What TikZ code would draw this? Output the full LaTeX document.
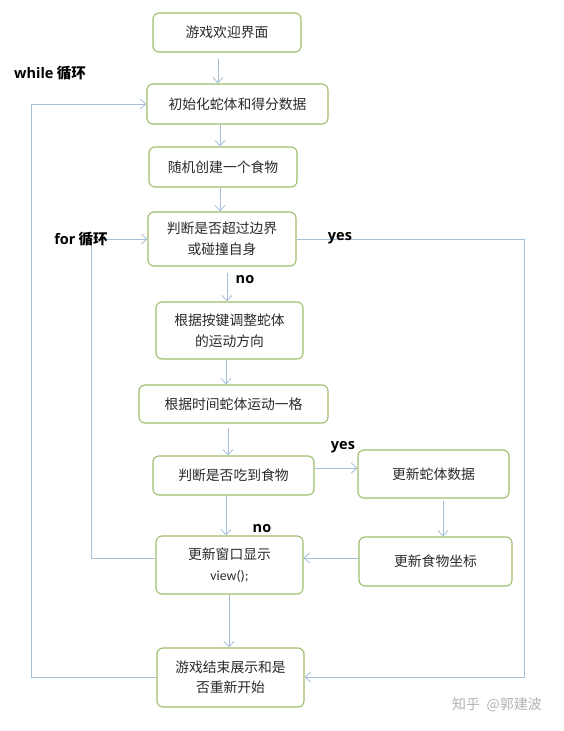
\documentclass[tikz,border=0pt]{standalone}
\usepackage{fontspec}
\setmainfont{Noto Sans CJK SC}
\newfontfamily\latinb{Open Sans}
\newfontfamily\calib{Carlito}
\usetikzlibrary{arrows.meta}
\definecolor{boxgreen}{HTML}{9DBD6A}
\definecolor{linkblue}{HTML}{A3BFD9}
\definecolor{txt}{HTML}{2A2A2A}
\tikzset{
  box/.style={draw=boxgreen, line width=1.1pt, rounded corners=6pt, fill=white,
    align=center, inner sep=0pt, text=txt, font=\fontsize{13.8}{20.5}\selectfont},
  conn/.style={draw=linkblue, line width=0.8pt, -{Straight Barb[length=5.5pt,width=10pt]}},
  lab/.style={text=black, inner sep=0pt, font=\fontsize{14.5}{16}\selectfont\bfseries},
}
\begin{document}
\begin{tikzpicture}[x=1pt,y=-1pt]
\useasboundingbox (0,0) rectangle (563,731);
% boxes
\node[box, minimum width=148pt, minimum height=39pt] (b1) at (227,32.5) {游戏欢迎界面};
\node[box, minimum width=181pt, minimum height=40pt] (b2) at (237.5,104) {初始化蛇体和得分数据};
\node[box, minimum width=148pt, minimum height=40pt] (b3) at (223,167) {随机创建一个食物};
\node[box, minimum width=148pt, minimum height=54pt] (b4) at (222,239) {判断是否超过边界\\或碰撞自身};
\node[box, minimum width=147pt, minimum height=57pt] (b5) at (229.5,330.5) {根据按键调整蛇体\\的运动方向};
\node[box, minimum width=189pt, minimum height=38pt] (b6) at (233.5,404) {根据时间蛇体运动一格};
\node[box, minimum width=161pt, minimum height=39pt] (b7) at (233.5,475.5) {判断是否吃到食物};
\node[box, minimum width=151pt, minimum height=48pt] (b8) at (433.5,474) {更新蛇体数据};
\node[box, minimum width=153pt, minimum height=49pt] (b9) at (435.5,561.5) {更新食物坐标};
\node[box, minimum width=147pt, minimum height=58pt] (b10) at (229.5,565) {更新窗口显示\\{\calib view();}};
\node[box, minimum width=147pt, minimum height=59pt] (b11) at (230.5,677.5) {游戏结束展示和是\\否重新开始};
% helper coordinates
\coordinate (x218) at (218,0);
\coordinate (x220) at (220,0);
\coordinate (x226) at (226,0);
\coordinate (x227) at (227,0);
\coordinate (x228) at (228,0);
\coordinate (x229) at (229,0);
\coordinate (x443) at (443,0);
\coordinate (forx) at (91,0);
\coordinate (yesx) at (524,0);
\coordinate (whx) at (31,0);
\coordinate (y104) at (0,104);
\coordinate (y239) at (0,239);
\coordinate (y468) at (0,468);
\coordinate (y558) at (0,558);
\coordinate (y677) at (0,677);
% connectors
\draw[conn, shorten <=6pt] (b1.south -| x218) -- (b2.north -| x218);
\draw[conn] (b2.south -| x220) -- (b3.north -| x220);
\draw[conn] (b3.south -| x220) -- (b4.north -| x220);
\draw[conn, shorten <=6pt] (b4.south -| x227) -- (b5.north -| x227);
\draw[conn] (b5.south -| x226) -- (b6.north -| x226);
\draw[conn, shorten <=4pt] (b6.south -| x228) -- (b7.north -| x228);
\draw[conn] (b7.south -| x226) -- (b10.north -| x226);
\draw[conn] (b10.south -| x229) -- (b11.north -| x229);
\draw[conn] (b7.east |- y468) -- (b8.west |- y468);
\draw[conn, shorten <=2pt] (b8.south -| x443) -- (b9.north -| x443);
\draw[conn] (b9.west |- y558) -- (b10.east |- y558);
\draw[conn] (b10.west |- y558) -| (forx |- y239) -- (b4.west |- y239);
\draw[conn] (b4.east |- y239) -- (yesx |- y239) -- (yesx |- y677) -- (b11.east |- y677);
\draw[conn] (b11.west |- y677) -| (whx |- y104) -- (b2.west |- y104);
% labels
\node[lab] (lwhile) at (50,73) {{\latinb while} 循环};
\node[lab] (lfor) at (81,239) {{\latinb for} 循环};
\node[lab] (lyes1) at (340,238) {\latinb yes};
\node[lab] (lno1) at (245,280) {\latinb no};
\node[lab] (lyes2) at (343,447) {\latinb yes};
\node[lab] (lno2) at (262,529) {\latinb no};
\node[text=black!30, inner sep=0pt, font=\fontsize{14}{16}\selectfont] (wm) at (497,705) {知乎 \ @郭建波};
\end{tikzpicture}
\end{document}
